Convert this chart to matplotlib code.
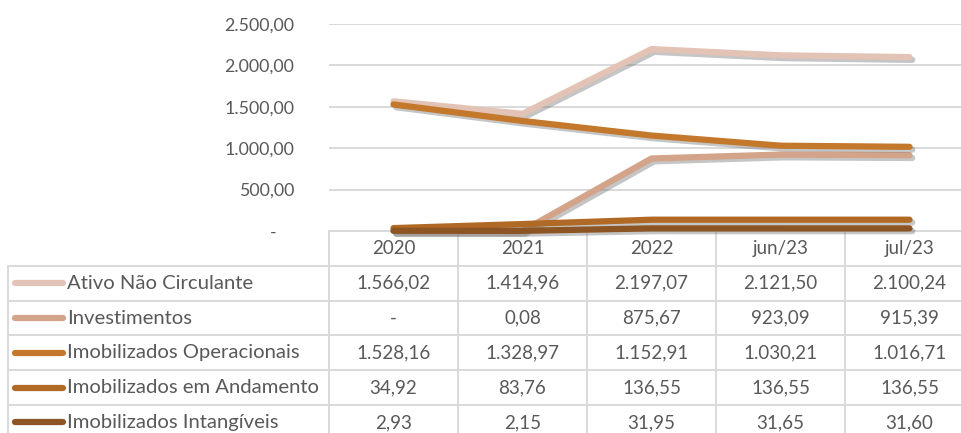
import matplotlib.pyplot as plt
import matplotlib.patheffects as pe

plt.rcParams['font.family'] = ['Lato', 'DejaVu Sans']

periods = ['2020', '2021', '2022', 'jun/23', 'jul/23']
series_names = ['Ativo Não Circulante', 'Investimentos', 'Imobilizados Operacionais',
                'Imobilizados em Andamento', 'Imobilizados Intangíveis']
ativo_nc = [1566.02, 1414.96, 2197.07, 2121.50, 2100.24]
investimentos = [0.0, 0.08, 875.67, 923.09, 915.39]
imob_oper = [1528.16, 1328.97, 1152.91, 1030.21, 1016.71]
imob_andamento = [34.92, 83.76, 136.55, 136.55, 136.55]
imob_intang = [2.93, 2.15, 31.95, 31.65, 31.60]
colors = ['#E2C3B5', '#D3A38A', '#C4782C', '#B06A26', '#8C5523']
yticks = [0, 500, 1000, 1500, 2000, 2500]

all_series = [ativo_nc, investimentos, imob_oper, imob_andamento, imob_intang]
text_col = '#595959'
grid_col = '#D9D9D9'


def br(v):
    if v == 0:
        return '-'
    s = '{:,.2f}'.format(v)
    return s.replace(',', 'X').replace('.', ',').replace('X', '.')


W, H = 962, 433
fig = plt.figure(figsize=(W / 100, H / 100), dpi=100)

# layout in pixels
x0, colw = 329, 129
ytop, ybot = 24, 231
ax = fig.add_axes([x0 / W, 1 - ybot / H, 5 * colw / W, (ybot - ytop) / H])
ax.set_xlim(-0.5, 4.5)
ax.set_ylim(0, 2500)
for s in ['top', 'right', 'left', 'bottom']:
    ax.spines[s].set_visible(False)
ax.set_xticks([])
ax.set_yticks(yticks)
ax.set_yticklabels([br(t) if t else '-    ' for t in yticks])
ax.tick_params(axis='y', length=0, pad=25, labelsize=12.8, labelcolor=text_col)
ax.grid(axis='y', color=grid_col, lw=1.4)
ax.set_axisbelow(True)

xs = range(len(periods))
for i, (vals, c) in enumerate(zip(all_series, colors)):
    ax.plot(xs, vals, color=c, lw=4.5, solid_capstyle='round', solid_joinstyle='round',
            zorder=3 + i, clip_on=False,
            path_effects=[pe.SimpleLineShadow(offset=(2, -2), shadow_color='#6f6f6f', alpha=0.4),
                          pe.Normal()])

# data table
tb = fig.add_axes([0, 0, 1, 1], zorder=-1)
tb.set_xlim(0, W)
tb.set_ylim(H, 0)
tb.axis('off')

row_h = 34.8
lx = 8
right = x0 + 5 * colw
n = len(series_names)
row_tops = [ybot + row_h * (k + 1) for k in range(n)]
bottom = ybot + row_h * (n + 1)

tb.plot([x0, right], [ybot, ybot], color=grid_col, lw=1.4)
for y in row_tops:
    tb.plot([lx, right], [y, y], color=grid_col, lw=1.4)
tb.plot([lx, lx], [row_tops[0], bottom], color=grid_col, lw=1.4)
for k in range(6):
    xv = x0 + k * colw
    tb.plot([xv, xv], [ybot, bottom], color=grid_col, lw=1.4)

for j, p in enumerate(periods):
    tb.text(x0 + colw * (j + 0.5), ybot + row_h / 2, p, ha='center', va='center',
            fontsize=13.5, color=text_col)

for k, (name, vals, c) in enumerate(zip(series_names, all_series, colors)):
    yc = row_tops[k] + row_h / 2
    tb.plot([15, 63], [yc, yc], color=c, lw=4.5, solid_capstyle='round')
    tb.text(67, yc, name, ha='left', va='center', fontsize=14.6, color=text_col)
    for j, v in enumerate(vals):
        tb.text(x0 + colw * (j + 0.5), yc, br(v), ha='center', va='center',
                fontsize=13.5, color=text_col)

fig.savefig('out.png', dpi=100)
